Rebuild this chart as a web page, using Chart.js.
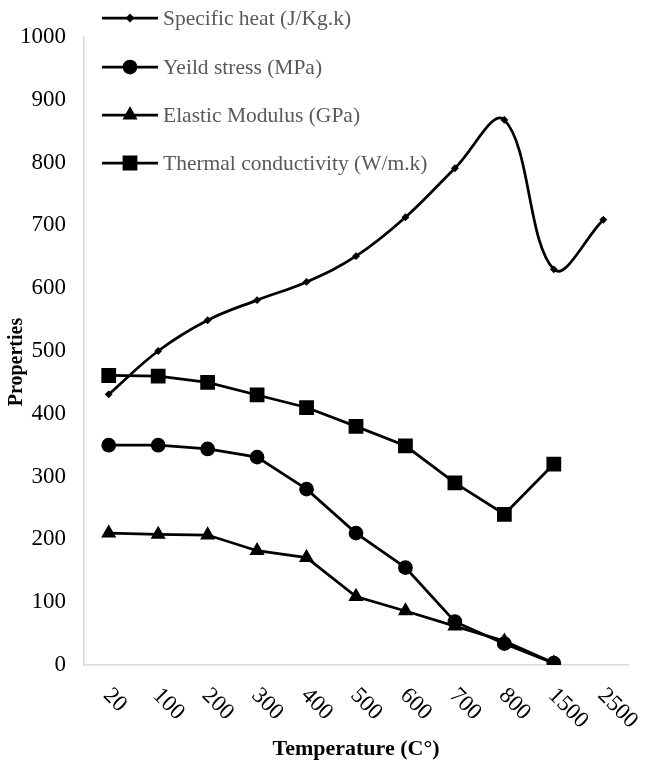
<!DOCTYPE html>
<html>
<head>
<meta charset="utf-8">
<script src="https://cdn.jsdelivr.net/npm/chart.js@4.4.1/dist/chart.umd.min.js"></script>
<style>
  html, body { margin: 0; padding: 0; background: #ffffff; }
  #wrap { width: 647px; height: 774px; }
</style>
</head>
<body>
<div id="wrap"><canvas id="c" width="647" height="774"></canvas></div>
<script>
// Temperature categories (°C)
const temperatures = ['20', '100', '200', '300', '400', '500', '600', '700', '800', '1500', '2500'];

// Material properties at each temperature
const specificHeat = [431, 500, 549, 581, 610, 651, 713, 791, 868, 630, 709];
const yieldStress = [350, 350, 344, 331, 280, 210, 155, 69, 34, 3, null];
const elasticModulus = [210, 208, 207, 182, 171, 109, 86, 62, 38, 3, null];
const thermalConductivity = [461, 460, 450, 430, 410, 380, 349, 290, 240, 320, null];

const yTicks = [0, 100, 200, 300, 400, 500, 600, 700, 800, 900, 1000];

const SERIF = "'Liberation Serif', 'Times New Roman', serif";

const datasets = [
  {
    label: 'Specific heat (J/Kg.k)',
    data: specificHeat,
    borderColor: '#000', backgroundColor: '#000',
    borderWidth: 2.75, tension: 0.38,
    pointStyle: 'rectRot', pointRadius: 2, legendRadius: 2.5
  },
  {
    label: 'Yeild stress (MPa)',
    data: yieldStress,
    borderColor: '#000', backgroundColor: '#000',
    borderWidth: 2.75, tension: 0,
    pointStyle: 'circle', pointRadius: 6, legendRadius: 6
  },
  {
    label: 'Elastic Modulus (GPa)',
    data: elasticModulus,
    borderColor: '#000', backgroundColor: '#000',
    borderWidth: 2.75, tension: 0,
    pointStyle: 'triangle', pointRadius: 6, legendRadius: 6
  },
  {
    label: 'Thermal conductivity (W/m.k)',
    data: thermalConductivity,
    borderColor: '#000', backgroundColor: '#000',
    borderWidth: 2.75, tension: 0,
    pointStyle: 'rect', pointRadius: 8.5, legendRadius: 8.5
  }
];

// Vertical legend drawn over the top-left of the plot
const legendPlugin = {
  id: 'stackedLegend',
  afterDraw(chart) {
    const ctx = chart.ctx;
    const x0 = 102, x1 = 158, textX = 163;
    const rows = [18, 67, 115, 163];
    ctx.save();
    chart.data.datasets.forEach((ds, i) => {
      const y = rows[i];
      ctx.strokeStyle = ds.borderColor;
      ctx.lineWidth = ds.borderWidth;
      ctx.beginPath();
      ctx.moveTo(x0, y);
      ctx.lineTo(x1, y);
      ctx.stroke();
      ctx.fillStyle = ds.backgroundColor;
      Chart.helpers.drawPoint(ctx, {
        pointStyle: ds.pointStyle, radius: ds.legendRadius, rotation: 0, borderWidth: 1
      }, (x0 + x1) / 2, y);
      ctx.fillStyle = '#595959';
      ctx.font = '21.5px ' + SERIF;
      ctx.textAlign = 'left';
      ctx.textBaseline = 'middle';
      ctx.fillText(ds.label, textX, y + 1);
    });
    ctx.restore();
  }
};

// Category labels slanted downward to the right, plus the vertical axis title
const axisTextPlugin = {
  id: 'axisText',
  afterDraw(chart) {
    const ctx = chart.ctx;
    const xs = chart.scales.x;
    ctx.save();
    ctx.fillStyle = '#000';
    ctx.font = '23px ' + SERIF;
    ctx.textAlign = 'left';
    ctx.textBaseline = 'middle';
    temperatures.forEach((t, i) => {
      const px = xs.getPixelForValue(i);
      ctx.save();
      ctx.translate(px - 2, 692);
      ctx.rotate(Math.PI / 4);
      ctx.fillText(t, 0, 0);
      ctx.restore();
    });

    ctx.save();
    ctx.translate(17, 362);
    ctx.rotate(-Math.PI / 2);
    ctx.font = 'bold 20px ' + SERIF;
    ctx.textAlign = 'center';
    ctx.textBaseline = 'middle';
    ctx.fillText('Properties', 0, 0);
    ctx.restore();
    ctx.restore();
  }
};

new Chart(document.getElementById('c'), {
  type: 'line',
  data: { labels: temperatures, datasets },
  options: {
    responsive: false,
    animation: false,
    devicePixelRatio: 1,
    layout: { padding: { left: 0, top: 37, right: 19, bottom: 0 } },
    plugins: {
      legend: { display: false },
      tooltip: { enabled: false }
    },
    scales: {
      x: {
        type: 'category',
        offset: true,
        grid: { display: false, drawTicks: false },
        border: { display: true, color: '#d9d9d9', width: 1.5 },
        ticks: { display: false },
        title: {
          display: true,
          text: 'Temperature (C°)',
          color: '#000',
          font: { family: SERIF, size: 22, weight: 'bold' },
          padding: { top: 0, bottom: 11 }
        },
        afterFit(scale) { scale.height = 109; }
      },
      y: {
        min: 0, max: 1000,
        afterBuildTicks(scale) { scale.ticks = yTicks.map(v => ({ value: v })); },
        grid: { display: false, drawTicks: false },
        border: { display: true, color: '#d9d9d9', width: 1.5 },
        ticks: {
          color: '#000',
          padding: 18,
          font: { family: SERIF, size: 23 },
          callback: (v) => String(v)
        },
        title: { display: false },
        afterFit(scale) { scale.width = 84; }
      }
    }
  },
  plugins: [legendPlugin, axisTextPlugin]
});
</script>
</body>
</html>
